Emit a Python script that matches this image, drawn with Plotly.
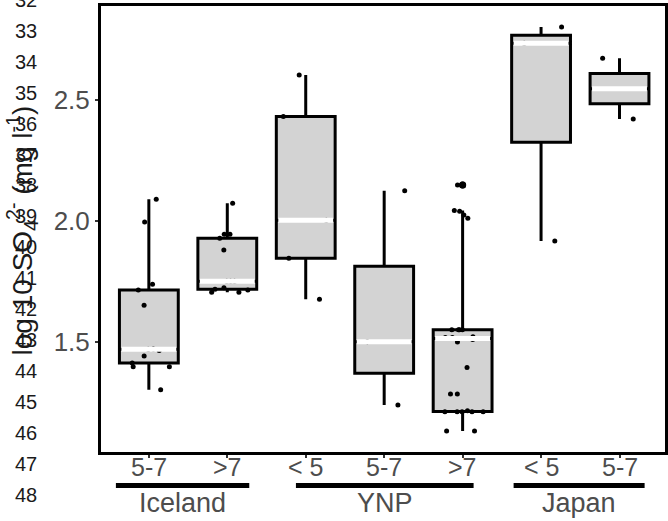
import numpy as np
import plotly.graph_objects as go

# ---------------- data ----------------
categories = ["5-7", ">7", "< 5", "5-7", ">7", "< 5", "5-7"]
regions = ["Iceland", "YNP", "Japan"]
region_of_cat = ["Iceland", "Iceland", "YNP", "YNP", "YNP", "Japan", "Japan"]

iceland_5_7 = [2.090, 1.996, 1.738, 1.715, 1.652, 1.471, 1.470, 1.465, 1.442, 1.413, 1.398, 1.398, 1.303]
iceland_gt7 = [2.073, 1.945, 1.945, 1.929, 1.880, 1.751, 1.751, 1.751, 1.724, 1.718, 1.715, 1.705, 1.705]
ynp_lt5 = [2.603, 2.431, 2.003, 1.846, 1.677]
ynp_5_7 = [2.125, 1.501, 1.240]
ynp_gt7 = [2.149, 2.149, 2.043, 2.040, 2.025, 2.011, 1.551, 1.551, 1.551, 1.551, 1.522, 1.519, 1.519,
           1.510, 1.500, 1.395, 1.285, 1.285, 1.216, 1.212, 1.212, 1.212, 1.212, 1.212, 1.132, 1.132]
japan_lt5 = [2.801, 2.734, 1.917]
japan_5_7 = [2.672, 2.421]

groups = [iceland_5_7, iceland_gt7, ynp_lt5, ynp_5_7, ynp_gt7, japan_lt5, japan_5_7]
y_ticks = [1.5, 2.0, 2.5]
line_numbers = list(range(32, 49))

y_title = "log 10 SO<sub>4</sub><sup>2-</sup> (mg l<sup>-1</sup>)"

# ---------------- figure ----------------
FONT = "Liberation Sans, Arial, sans-serif"
GRAY = "#4D4D4D"
BOXW = 0.75

fig = go.Figure()

stats = []
for i, vals in enumerate(groups):
    v = np.array(vals)
    q1, med, q3 = np.percentile(v, [25, 50, 75])
    iqr = q3 - q1
    lo_f, hi_f = q1 - 1.5 * iqr, q3 + 1.5 * iqr
    inside = v[(v >= lo_f) & (v <= hi_f)]
    outl = v[(v < lo_f) | (v > hi_f)]
    stats.append((q1, med, q3, inside.min(), inside.max(), outl))
    fig.add_trace(go.Box(
        x=[i], q1=[q1], median=[med], q3=[q3],
        lowerfence=[inside.min()], upperfence=[inside.max()],
        width=BOXW, whiskerwidth=0, fillcolor="#D3D3D3",
        line=dict(color="black", width=3), boxpoints=False,
        showlegend=False, hoverinfo="skip"))

# white medians
for i, (q1, med, q3, lo, hi, outl) in enumerate(stats):
    fig.add_trace(go.Scatter(
        x=[i - BOXW / 2 + 0.025, i + BOXW / 2 - 0.025], y=[med, med],
        mode="lines", line=dict(color="white", width=5),
        showlegend=False, hoverinfo="skip"))

# boxplot outliers (centered)
for i, (q1, med, q3, lo, hi, outl) in enumerate(stats):
    if len(outl):
        fig.add_trace(go.Scatter(
            x=[i] * len(outl), y=list(outl), mode="markers",
            marker=dict(color="black", size=7), showlegend=False, hoverinfo="skip"))

# jittered points
for i, vals in enumerate(groups):
    fig.add_trace(go.Box(
        x=[i] * len(vals), y=vals, boxpoints="all", jitter=0.9, pointpos=0,
        width=BOXW, fillcolor="rgba(0,0,0,0)",
        line=dict(color="rgba(0,0,0,0)", width=0),
        marker=dict(color="black", size=5),
        showlegend=False, hoverinfo="skip"))

W, H = 668, 521
ML, MR, MT, MB = 101, 0, 6, 69
plot_h = H - MT - MB
plot_w = W - ML - MR

def py(pix):
    return (H - MB - pix) / plot_h

def px(pix):
    return (pix - ML) / plot_w

shapes = []
annotations = []
bar_spans = {"Iceland": (-0.42, 1.28), "YNP": (1.875, 4.14), "Japan": (4.65, 6.32)}
for r in regions:
    x0, x1 = bar_spans[r]
    shapes.append(dict(type="line", xref="x", yref="paper", x0=x0, x1=x1,
                       y0=py(485.5), y1=py(485.5), line=dict(color="black", width=5)))
    annotations.append(dict(text=r, xref="x", yref="paper", x=(x0 + x1) / 2, y=py(503),
                            showarrow=False, xanchor="center", yanchor="middle",
                            font=dict(family=FONT, size=27, color=GRAY)))

# category tick labels
for i, c in enumerate(categories):
    annotations.append(dict(text=c, xref="x", yref="paper", x=i, y=py(467),
                            showarrow=False, xanchor="center", yanchor="middle",
                            font=dict(family=FONT, size=25, color=GRAY)))

for n in line_numbers:
    ypix = 30.7 + 30.95 * (n - 33)
    annotations.append(dict(text=str(n), xref="paper", yref="paper", x=px(26), y=py(ypix),
                            showarrow=False, xanchor="center", yanchor="middle",
                            font=dict(family=FONT, size=20, color="#1a1a1a")))

annotations.append(dict(text=y_title, xref="paper", yref="paper", x=px(22), y=py(230),
                        textangle=-90, showarrow=False, xanchor="center", yanchor="middle",
                        font=dict(family=FONT, size=28, color="#1a1a1a")))

fig.update_layout(
    width=W, height=H,
    margin=dict(l=ML, r=MR, t=MT, b=MB, pad=0),
    paper_bgcolor="white", plot_bgcolor="white",
    boxmode="overlay", showlegend=False,
    shapes=shapes, annotations=annotations,
    xaxis=dict(range=[-0.61, 6.58], tickmode="array", tickvals=list(range(len(categories))),
               showticklabels=False, showgrid=False, zeroline=False,
               showline=True, mirror=True, linecolor="black", linewidth=3,
               ticks="outside", ticklen=3, tickwidth=1.5, tickcolor="#333333"),
    yaxis=dict(range=[1.0455, 2.888], tickmode="array", tickvals=y_ticks,
               ticktext=[f"{t:.1f}" for t in y_ticks], showgrid=False, zeroline=False,
               showline=True, mirror=True, linecolor="black", linewidth=3,
               ticks="outside", ticklen=3, tickwidth=1.5, tickcolor="#333333",
               tickfont=dict(family=FONT, size=26, color=GRAY)),
)

fig.write_html("out.html")
